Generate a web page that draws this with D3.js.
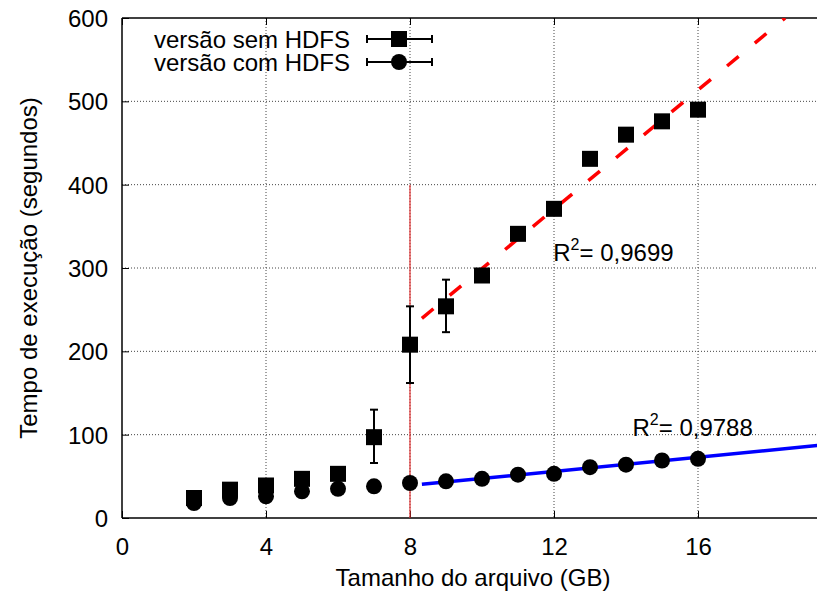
<!DOCTYPE html>
<html><head><meta charset="utf-8">
<script src="https://cdn.jsdelivr.net/npm/d3@7"></script>
<style>
body{margin:0;background:#fff;}
text{font-family:"Liberation Sans",Arial,Helvetica,sans-serif;fill:#000;}
</style></head>
<body><svg id="c" width="817" height="592"></svg>
<script>
// ---- data ----
const sizes = [2,3,4,5,6,7,8,9,10,11,12,13,14,15,16];
const semHDFS = [24,34,39,47,53,97,208,254,291,341,371,431,460,476,490];
const comHDFS = [18,24,26,32,35,38,42,44,47,52,53,61,64,69,71];
const errLowSem  = [null,null,null,null,null,66,162,223,null,null,null,null,null,null,null];
const errHighSem = [null,null,null,null,null,130,254,286,null,null,null,null,null,null,null];
const fitSemX = [8.33, 18.42];
const fitSemY = [239.6, 600];
const fitComX = [8.33, 19.5];
const fitComY = [40.4, 87.7];
const splitX = [8];
const splitY = [0, 400];
const xTicks = [0,4,8,12,16];
const yTicks = [0,100,200,300,400,500,600];
const seriesNames = ["versão sem HDFS","versão com HDFS"];
const r2Labels = ["0,9699","0,9788"];
const r2Pos = [[11.98, 308], [14.18, 98]];

// ---- layout ----
const svg = d3.select("#c");
const L=122, R=824, T=18, B=518;
const x = d3.scaleLinear().domain([0,19.5]).range([L,R]);
const y = d3.scaleLinear().domain([0,600]).range([B,T]);
const FS = 24;

svg.append("defs").append("clipPath").attr("id","pc")
  .append("rect").attr("x",L).attr("y",T).attr("width",R-L).attr("height",B-T);

// grid
const g = svg.append("g");
g.selectAll(".gx").data(xTicks.filter(d=>d>0)).join("line")
  .attr("x1",d=>x(d)).attr("x2",d=>x(d)).attr("y1",T).attr("y2",B)
  .attr("stroke","#444").attr("stroke-width",1).attr("stroke-dasharray","1,2");
g.selectAll(".gy").data(yTicks.filter(d=>d>0&&d<600)).join("line")
  .attr("x1",L).attr("x2",R).attr("y1",d=>y(d)).attr("y2",d=>y(d))
  .attr("stroke","#444").attr("stroke-width",1).attr("stroke-dasharray","1,2");

// axes (D3 axes with inward ticks)
const xAx = svg.append("g").attr("transform",`translate(0,${B})`)
  .call(d3.axisBottom(x).tickValues(xTicks).tickSize(-7).tickPadding(20));
const xAxTop = svg.append("g").attr("transform",`translate(0,${T})`)
  .call(d3.axisTop(x).tickValues(xTicks).tickSize(-7).tickFormat(""));
const yAx = svg.append("g").attr("transform",`translate(${L},0)`)
  .call(d3.axisLeft(y).tickValues(yTicks).tickSize(-7).tickPadding(20));
[xAx,xAxTop,yAx].forEach(a=>{
  a.selectAll(".domain").attr("stroke","#000").attr("stroke-width",1.5);
  a.selectAll(".tick line").attr("stroke","#000").attr("stroke-width",1);
  a.selectAll("text").attr("font-size",FS).attr("font-family","Liberation Sans, Arial, sans-serif");
});
xAx.selectAll(".domain").attr("d",`M${L},0H${R}`);
xAxTop.selectAll(".domain").attr("d",`M${L},0H${R}`);
yAx.selectAll(".domain").attr("d",`M0,${T}V${B}`);
xAx.selectAll("text").attr("dy","0.71em").attr("y",20);
yAx.selectAll("text").attr("x",-14).attr("dy","0.36em");

// axis titles
svg.append("text").attr("x",473).attr("y",586).attr("text-anchor","middle")
  .attr("font-size",FS).text("Tamanho do arquivo (GB)");
svg.append("text").attr("transform",`translate(37,${(T+B)/2}) rotate(-90)`)
  .attr("text-anchor","middle").attr("font-size",FS).text("Tempo de execução (segundos)");

const p = svg.append("g").attr("clip-path","url(#pc)");

// split line
p.append("line").attr("x1",x(splitX[0])).attr("x2",x(splitX[0]))
  .attr("y1",y(splitY[0])).attr("y2",y(splitY[1]))
  .attr("stroke","#e03030").attr("stroke-width",1.2);

// fit lines
p.append("line").attr("x1",x(fitSemX[0])).attr("y1",y(fitSemY[0]))
  .attr("x2",x(fitSemX[1])).attr("y2",y(fitSemY[1]))
  .attr("stroke","#ff0000").attr("stroke-width",3.5).attr("stroke-dasharray","15,21");
p.append("line").attr("x1",x(fitComX[0])).attr("y1",y(fitComY[0]))
  .attr("x2",x(fitComX[1])).attr("y2",y(fitComY[1]))
  .attr("stroke","#0000ff").attr("stroke-width",3.5);

// error bars
const eb = sizes.map((s,i)=>({s,lo:errLowSem[i],hi:errHighSem[i]})).filter(d=>d.lo!=null);
p.selectAll(".eb").data(eb).join("line")
  .attr("x1",d=>x(d.s)).attr("x2",d=>x(d.s)).attr("y1",d=>y(d.lo)).attr("y2",d=>y(d.hi))
  .attr("stroke","#000").attr("stroke-width",2);
["lo","hi"].forEach(k=>{
  p.selectAll(".c"+k).data(eb).join("line")
    .attr("x1",d=>x(d.s)-4).attr("x2",d=>x(d.s)+4).attr("y1",d=>y(d[k])).attr("y2",d=>y(d[k]))
    .attr("stroke","#000").attr("stroke-width",2);
});

// markers
p.selectAll(".sq").data(sizes).join("rect")
  .attr("x",(d)=>x(d)-8).attr("y",(d,i)=>y(semHDFS[i])-8).attr("width",16).attr("height",16)
  .attr("fill","#000");
p.selectAll(".ci").data(sizes).join("circle")
  .attr("cx",d=>x(d)).attr("cy",(d,i)=>y(comHDFS[i])).attr("r",8).attr("fill","#000");

// R2 labels
r2Labels.forEach((lab,i)=>{
  const t = svg.append("text").attr("x",x(r2Pos[i][0])).attr("y",y(r2Pos[i][1])).attr("font-size",FS);
  t.append("tspan").text("R");
  t.append("tspan").attr("font-size",16).attr("dy",-11).text("2");
  t.append("tspan").attr("dy",11).text("= "+lab);
});

// legend
const lg = svg.append("g");
seriesNames.forEach((n,i)=>{
  const cy = 39 + i*23;
  lg.append("text").attr("x",350).attr("y",cy).attr("dy","0.36em").attr("text-anchor","end")
    .attr("font-size",FS).text(n);
  lg.append("line").attr("x1",367).attr("x2",432).attr("y1",cy).attr("y2",cy).attr("stroke","#000").attr("stroke-width",2);
  [367,432].forEach(xx=>lg.append("line").attr("x1",xx).attr("x2",xx).attr("y1",cy-4).attr("y2",cy+4).attr("stroke","#000").attr("stroke-width",2));
  if(i===0) lg.append("rect").attr("x",391).attr("y",cy-8).attr("width",16).attr("height",16).attr("fill","#000");
  else lg.append("circle").attr("cx",399).attr("cy",cy).attr("r",8).attr("fill","#000");
});
</script></body></html>
